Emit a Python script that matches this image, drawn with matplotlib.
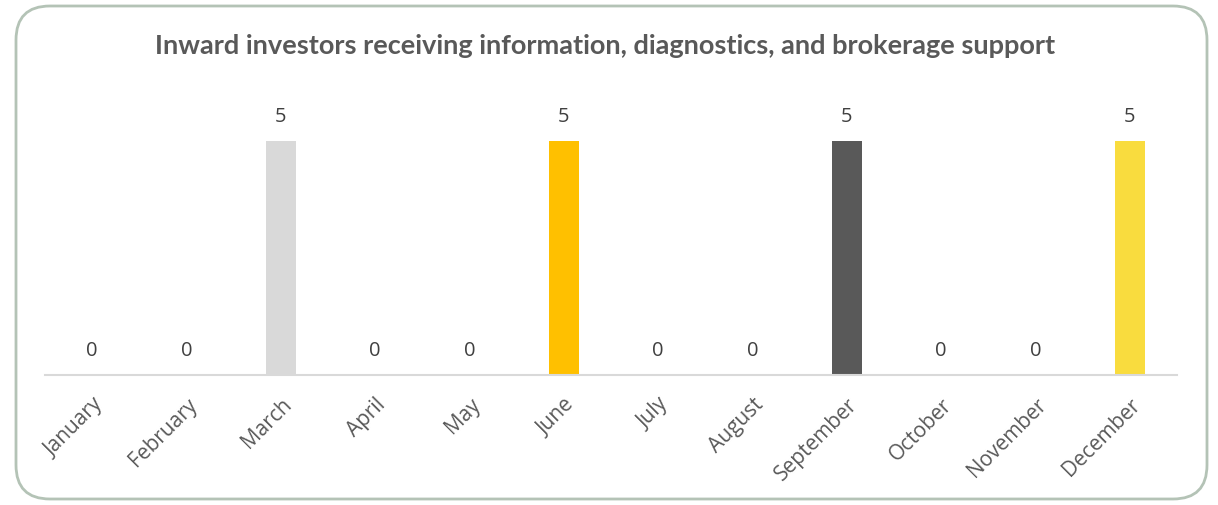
import matplotlib.pyplot as plt
from matplotlib.patches import FancyBboxPatch
from matplotlib.transforms import IdentityTransform

months = ["January", "February", "March", "April", "May", "June",
          "July", "August", "September", "October", "November", "December"]
values = [0, 0, 5, 0, 0, 5, 0, 0, 5, 0, 0, 5]
colors = ["#D9D9D9", "#D9D9D9", "#D9D9D9", "#FFC000", "#FFC000", "#FFC000",
          "#595959", "#595959", "#595959", "#F9DC3E", "#F9DC3E", "#F9DC3E"]
title = "Inward investors receiving information, diagnostics, and brokerage support"

plt.rcParams['font.family'] = ['Open Sans', 'DejaVu Sans']

fig = plt.figure(figsize=(12.18, 5.05), dpi=100)

# rounded outer border, in pixels
box = FancyBboxPatch((16, 6), 1191, 493,
                     boxstyle="round,pad=0,rounding_size=34",
                     transform=IdentityTransform(), facecolor="white",
                     edgecolor="#B4C3B6", linewidth=2, zorder=-10)
fig.patches.append(box)

ax = fig.add_axes([45 / 1218, 130 / 505, 1132 / 1218, 281 / 505])
ax.patch.set_alpha(0)
x = range(len(months))
bars = ax.bar(x, values, width=0.32, color=colors)
for xi, v in zip(x, values):
    ax.text(xi, v + 0.3, str(v), ha="center", va="bottom",
            fontsize=14.5, color="#404040")

ax.set_xlim(-0.5, len(months) - 0.5)
ax.set_ylim(0, 6)
ax.set_yticks([])
ax.set_xticks(list(x))
ax.set_xticklabels(months, rotation=45, ha="right", rotation_mode="anchor",
                   fontsize=15, color="#595959")
ax.tick_params(axis="x", length=0, pad=14)
for s in ["top", "left", "right"]:
    ax.spines[s].set_visible(False)
ax.spines["bottom"].set_color("#D9D9D9")
ax.spines["bottom"].set_linewidth(1.5)

fig.text(605 / 1218, 1 - 46 / 505, title, ha="center", va="center",
         fontsize=19.5, fontweight="bold", color="#595959",
         family=["Lato", "DejaVu Sans"])

fig.savefig("out.png", dpi=100)
